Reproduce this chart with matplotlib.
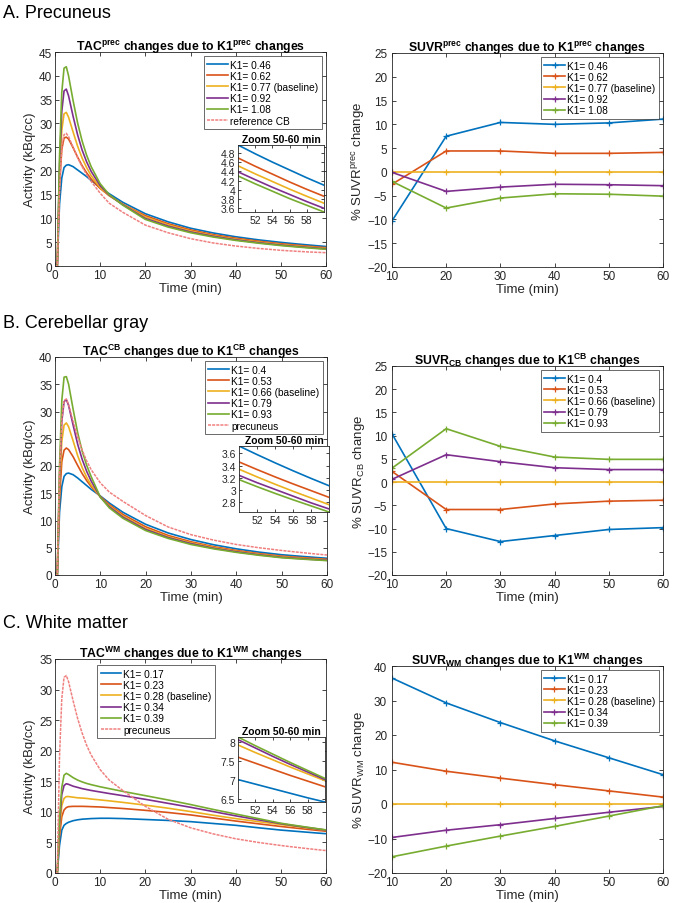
import matplotlib
matplotlib.use("Agg")
import matplotlib.pyplot as plt
from matplotlib.ticker import FuncFormatter

plt.rcParams['font.family'] = ['Liberation Sans', 'DejaVu Sans']
plt.rcParams['mathtext.fontset'] = 'custom'
plt.rcParams['mathtext.rm'] = 'Liberation Sans'
plt.rcParams['mathtext.it'] = 'Liberation Sans:italic'
plt.rcParams['mathtext.bf'] = 'Liberation Sans:bold'

# ---------------- data ----------------
time_tac = [0, 0.5, 1, 1.5, 2, 2.5, 3, 4, 5, 6, 7, 8, 10, 12, 15, 20, 25, 30, 35, 40, 45, 50, 52, 54, 56, 58, 60]

# A. Precuneus TACs
prec_labels = ['K1= 0.46', 'K1= 0.62', 'K1= 0.77 (baseline)', 'K1= 0.92', 'K1= 1.08']
prec_k046 = [0, 0, 13, 18.5, 20.7, 21.2, 21.3, 20.9, 20.2, 19.5, 18.8, 18.0, 16.5, 15.2, 13.4, 11.0, 9.3, 7.95, 6.95, 6.15, 5.5, 4.97, 4.78, 4.60, 4.43, 4.26, 4.10]
prec_k062 = [0, 0, 17, 24.5, 26.9, 27.1, 26.7, 24.9, 22.9, 21.1, 19.6, 18.3, 16.3, 14.8, 13.0, 10.6, 8.9, 7.6, 6.6, 5.85, 5.22, 4.69, 4.51, 4.34, 4.17, 4.01, 3.86]
prec_k077 = [0, 0, 19, 28.5, 32.0, 32.3, 31.3, 28.2, 25.2, 22.7, 20.7, 19.0, 16.5, 14.8, 13.0, 10.3, 8.65, 7.35, 6.4, 5.65, 5.04, 4.52, 4.345, 4.18, 4.015, 3.86, 3.71]
prec_k092 = [0, 0, 21, 32.5, 36.8, 37.2, 35.8, 31.5, 27.6, 24.4, 21.9, 19.9, 16.9, 14.9, 12.9, 10.0, 8.4, 7.15, 6.25, 5.5, 4.9, 4.39, 4.22, 4.055, 3.90, 3.745, 3.60]
prec_k108 = [0, 0, 23, 36.5, 41.6, 41.9, 40.0, 34.8, 30.1, 26.3, 23.3, 20.9, 17.3, 15.0, 12.8, 9.8, 8.2, 7.0, 6.1, 5.38, 4.8, 4.30, 4.13, 3.97, 3.81, 3.665, 3.52]
ref_cb_label = 'reference CB'
ref_cb = [0, 0, 16, 25, 27.6, 27.9, 27.2, 25.0, 22.8, 20.9, 19.2, 17.8, 15.3, 13.2, 11.3, 8.6, 7.0, 5.75, 4.85, 4.2, 3.7, 3.3, 3.18, 3.07, 2.96, 2.88, 2.8]

# B. Cerebellar gray TACs
cb_labels = ['K1= 0.4', 'K1= 0.53', 'K1= 0.66 (baseline)', 'K1= 0.79', 'K1= 0.93']
cb_k040 = [0, 0, 11.5, 16.2, 18.1, 18.6, 18.7, 18.4, 17.8, 17.1, 16.4, 15.7, 14.5, 13.2, 11.5, 9.3, 7.7, 6.5, 5.55, 4.8, 4.2, 3.72, 3.58, 3.445, 3.315, 3.19, 3.07]
cb_k053 = [0, 0, 14, 20.8, 22.9, 23.3, 23.0, 21.7, 20.1, 18.6, 17.3, 16.2, 14.4, 12.9, 11.1, 8.85, 7.25, 6.1, 5.2, 4.5, 3.93, 3.46, 3.335, 3.215, 3.10, 2.99, 2.88]
cb_k066 = [0, 0, 16, 24.5, 27.5, 27.9, 27.2, 24.6, 21.9, 19.7, 17.9, 16.5, 14.3, 12.7, 10.8, 8.55, 7.0, 5.9, 5.05, 4.35, 3.8, 3.34, 3.215, 3.095, 2.98, 2.87, 2.76]
cb_k079 = [0, 0, 18, 28.2, 31.8, 32.2, 31.1, 27.5, 24.0, 21.2, 19.0, 17.2, 14.3, 12.5, 10.6, 8.35, 6.85, 5.75, 4.9, 4.25, 3.7, 3.24, 3.12, 3.01, 2.90, 2.79, 2.69]
cb_k093 = [0, 0, 20, 32, 36.3, 36.4, 35.0, 30.4, 26.1, 22.7, 20.1, 18.0, 14.3, 12.3, 10.4, 8.15, 6.7, 5.6, 4.8, 4.15, 3.62, 3.17, 3.055, 2.945, 2.84, 2.74, 2.64]
prec_ref_label = 'precuneus'
prec_ref = [0, 0, 19, 28.5, 32.0, 32.3, 31.3, 28.2, 25.3, 22.9, 20.9, 19.3, 16.9, 15.2, 13.5, 10.9, 8.8, 7.4, 6.4, 5.6, 5.0, 4.5, 4.32, 4.15, 3.98, 3.82, 3.67]

# C. White matter TACs
wm_labels = ['K1= 0.17', 'K1= 0.23', 'K1= 0.28 (baseline)', 'K1= 0.34', 'K1= 0.39']
wm_k017 = [0, 0, 4.5, 7.0, 7.8, 8.1, 8.3, 8.55, 8.7, 8.8, 8.85, 8.9, 8.95, 8.95, 8.9, 8.75, 8.6, 8.4, 8.1, 7.8, 7.4, 7.02, 6.90, 6.78, 6.66, 6.54, 6.43]
wm_k023 = [0, 0, 6, 9.2, 10.3, 10.7, 10.85, 10.9, 10.9, 10.9, 10.88, 10.85, 10.8, 10.7, 10.55, 10.25, 9.9, 9.5, 9.0, 8.5, 8.05, 7.61, 7.45, 7.29, 7.13, 6.98, 6.83]
wm_k028 = [0, 0, 7, 11, 12.2, 12.5, 12.5, 12.4, 12.3, 12.25, 12.2, 12.1, 11.95, 11.8, 11.55, 11.1, 10.6, 10.05, 9.45, 8.9, 8.4, 7.93, 7.73, 7.54, 7.35, 7.17, 6.99]
wm_k034 = [0, 0, 8, 12.8, 14.3, 14.6, 14.5, 14.2, 14.0, 13.8, 13.65, 13.5, 13.25, 13.0, 12.65, 12.05, 11.4, 10.75, 10.05, 9.35, 8.7, 8.07, 7.85, 7.63, 7.42, 7.22, 7.02]
wm_k039 = [0, 0, 9, 14, 16.0, 16.3, 16.1, 15.6, 15.2, 14.9, 14.65, 14.45, 14.1, 13.8, 13.35, 12.65, 11.95, 11.2, 10.4, 9.65, 8.9, 8.14, 7.91, 7.69, 7.47, 7.26, 7.05]

# SUVR % changes
time_suvr = [10, 20, 30, 40, 50, 60]
suvr_prec_k046 = [-10.3, 7.5, 10.4, 10.0, 10.3, 11.1]
suvr_prec_k062 = [-2.6, 4.4, 4.4, 3.9, 3.9, 4.1]
suvr_prec_k077 = [0, 0, 0, 0, 0, 0]
suvr_prec_k092 = [-0.1, -4.1, -3.2, -2.6, -2.7, -2.9]
suvr_prec_k108 = [-2.0, -7.6, -5.5, -4.6, -4.7, -5.1]

suvr_cb_k040 = [10.4, -10.0, -12.8, -11.5, -10.2, -9.8]
suvr_cb_k053 = [2.3, -5.9, -5.9, -4.7, -4.1, -3.9]
suvr_cb_k066 = [0, 0, 0, 0, 0, 0]
suvr_cb_k079 = [0.6, 5.9, 4.4, 3.1, 2.7, 2.7]
suvr_cb_k093 = [3.0, 11.5, 7.7, 5.4, 4.9, 4.9]

suvr_wm_k017 = [36.5, 29.3, 23.6, 18.3, 13.4, 8.5]
suvr_wm_k023 = [12.1, 9.5, 7.5, 5.6, 3.8, 2.0]
suvr_wm_k028 = [0, 0, 0, 0, 0, 0]
suvr_wm_k034 = [-9.7, -7.6, -6.0, -4.2, -2.4, -0.7]
suvr_wm_k039 = [-15.3, -12.2, -9.3, -6.5, -3.5, -0.5]

# ---------------- style ----------------
COLORS = ['#0072BD', '#D95319', '#EDB120', '#7E2F8E', '#77AC30']
PINK = '#F08080'
DARK = '#262626'
W, H = 676, 904


def fig_rect(left, top, right, bottom):
    return [left / W, 1 - bottom / H, (right - left) / W, (bottom - top) / H]


def style(ax, labelsize=8.5, length=3, ypad=2.0):
    for s in ax.spines.values():
        s.set_color(DARK)
        s.set_linewidth(0.6)
    ax.tick_params(direction='in', length=length, width=0.6, top=True, right=True,
                   colors=DARK, labelsize=labelsize, pad=2)
    ax.tick_params(axis='y', pad=ypad)


def legend(ax, **kw):
    opts = dict(fontsize=7.3, frameon=True, fancybox=False, borderpad=0.35,
                labelspacing=0.12, handlelength=2.0, handletextpad=0.25,
                borderaxespad=0.4)
    opts.update(kw)
    lg = ax.legend(**opts)
    lg.get_frame().set_edgecolor(DARK)
    lg.get_frame().set_linewidth(0.6)
    return lg


fmt_g = FuncFormatter(lambda v, p: ('%g' % round(v, 4)))

fig = plt.figure(figsize=(W / 100, H / 100), dpi=100)


def tac_panel(rect, inset_rect, series, labels, ref, ref_label, title, ymax,
              inset_yticks, legend_kw):
    ax = fig.add_axes(fig_rect(*rect))
    for ys, lab, c in zip(series, labels, COLORS):
        ax.plot(time_tac, ys, color=c, lw=1.2, label=lab)
    ax.plot(time_tac, ref, color=PINK, lw=1.1, ls=(0, (2.0, 0.7)), label=ref_label)
    ax.set_xlim(0, 60)
    ax.set_ylim(0, ymax)
    ax.set_xticks(range(0, 61, 10))
    ax.set_yticks(range(0, ymax + 1, 5))
    ax.set_xlabel('Time (min)', fontsize=9.5, color=DARK, labelpad=1)
    ax.set_ylabel('Activity (kBq/cc)', fontsize=9.5, color=DARK, labelpad=2)
    ax.set_title(title, fontsize=8.8, fontweight='bold', color='black', pad=1.5)
    style(ax)
    legend(ax, **legend_kw)

    ins = fig.add_axes(fig_rect(*inset_rect))
    lo, hi = 1e9, -1e9
    for ys, c in zip(series, COLORS):
        ins.plot(time_tac, ys, color=c, lw=1.2)
        seg = [v for t, v in zip(time_tac, ys) if 50 <= t <= 60]
        lo, hi = min(lo, min(seg)), max(hi, max(seg))
    ins.set_xlim(50, 60)
    ins.set_ylim(lo, hi)
    ins.set_xticks([52, 54, 56, 58])
    ins.set_yticks(inset_yticks)
    ins.yaxis.set_major_formatter(fmt_g)
    ins.set_title('Zoom 50-60 min', fontsize=7.5, fontweight='bold', pad=2.5)
    style(ins, labelsize=7.5, length=2)
    return ax


def suvr_panel(rect, series, labels, title, ylabel, ylim, ystep):
    ax = fig.add_axes(fig_rect(*rect))
    for ys, lab, c in zip(series, labels, COLORS):
        ax.plot(time_suvr, ys, color=c, lw=1.2, marker='+', ms=4, mew=0.9, label=lab)
    ax.set_xlim(10, 60)
    ax.set_ylim(*ylim)
    ax.set_xticks(range(10, 61, 10))
    ax.set_yticks(range(ylim[0], ylim[1] + 1, ystep))
    ax.set_xlabel('Time (min)', fontsize=9.5, color=DARK, labelpad=1)
    ax.set_ylabel(ylabel, fontsize=9.5, color=DARK, labelpad=0)
    ax.set_title(title, fontsize=8.8, fontweight='bold', color='black', pad=1.5)
    style(ax, ypad=3.5)
    legend(ax, loc='upper right')
    return ax


# Panel A
fig.text(3 / W, 1 - 18 / H, 'A. Precuneus', fontsize=13, ha='left', va='baseline')
tac_panel((55, 53, 326, 267), (238, 146, 324, 213),
          [prec_k046, prec_k062, prec_k077, prec_k092, prec_k108], prec_labels,
          ref_cb, ref_cb_label,
          r'TAC$^{\mathbf{prec}}$ changes due to K1$^{\mathbf{prec}}$ changes', 45,
          [3.6, 3.8, 4.0, 4.2, 4.4, 4.6, 4.8], dict(loc='upper right'))
suvr_panel((392, 54, 663, 268),
           [suvr_prec_k046, suvr_prec_k062, suvr_prec_k077, suvr_prec_k092, suvr_prec_k108],
           prec_labels,
           r'SUVR$^{\mathbf{prec}}$ changes due to K1$^{\mathbf{prec}}$ changes',
           r'% SUVR$^{\mathrm{prec}}$ change', (-20, 25), 5)

# Panel B
fig.text(3 / W, 1 - 328 / H, 'B. Cerebellar gray', fontsize=13, ha='left', va='baseline')
tac_panel((55, 358, 327, 576), (239, 447, 329, 513),
          [cb_k040, cb_k053, cb_k066, cb_k079, cb_k093], cb_labels,
          prec_ref, prec_ref_label,
          r'TAC$^{\mathbf{CB}}$ changes due to K1$^{\mathbf{CB}}$ changes', 40,
          [2.8, 3.0, 3.2, 3.4, 3.6], dict(loc='upper right'))
suvr_panel((392, 367, 663, 576),
           [suvr_cb_k040, suvr_cb_k053, suvr_cb_k066, suvr_cb_k079, suvr_cb_k093],
           cb_labels,
           r'SUVR$_{\mathbf{CB}}$ changes due to K1$^{\mathbf{CB}}$ changes',
           r'% SUVR$_{\mathrm{CB}}$ change', (-20, 25), 5)

# Panel C
fig.text(3 / W, 1 - 628 / H, 'C. White matter', fontsize=13, ha='left', va='baseline')
tac_panel((55, 660, 326, 874), (238, 738, 325, 803),
          [wm_k017, wm_k023, wm_k028, wm_k034, wm_k039], wm_labels,
          prec_ref, prec_ref_label,
          r'TAC$^{\mathbf{WM}}$ changes due to K1$^{\mathbf{WM}}$ changes', 35,
          [6.5, 7.0, 7.5, 8.0],
          dict(loc='upper left', bbox_to_anchor=((97 - 55) / 271, 1 - 6 / 214), borderaxespad=0))
suvr_panel((392, 667, 663, 874),
           [suvr_wm_k017, suvr_wm_k023, suvr_wm_k028, suvr_wm_k034, suvr_wm_k039],
           wm_labels,
           r'SUVR$_{\mathbf{WM}}$ changes due to K1$^{\mathbf{WM}}$ changes',
           r'% SUVR$_{\mathrm{WM}}$ change', (-20, 40), 10)

fig.savefig('out.png', dpi=100, facecolor='white')
